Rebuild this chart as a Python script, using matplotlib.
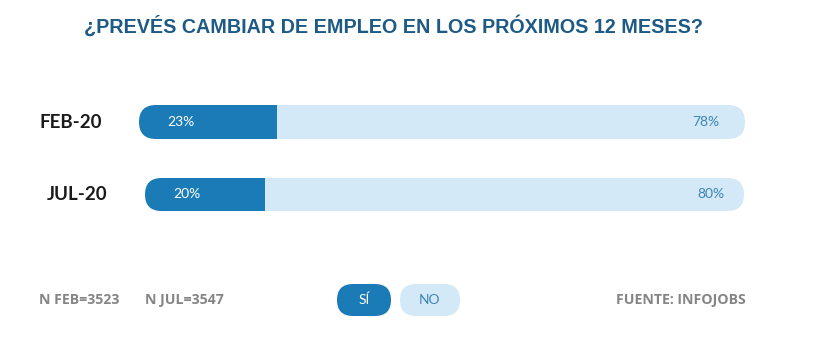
import matplotlib
matplotlib.use("Agg")
import matplotlib.pyplot as plt
from matplotlib.patches import FancyBboxPatch

# data
periods = ["FEB-20", "JUL-20"]
si_pct = [23, 20]
no_pct = [78, 80]
sample_sizes = ["N FEB=3523", "N JUL=3547"]
legend_labels = ["SÍ", "NO"]
title = "¿PREVÉS CAMBIAR DE EMPLEO EN LOS PRÓXIMOS 12 MESES?"
source = "FUENTE: INFOJOBS"

DARK = "#1b7bb6"
LIGHT = "#d3e9f8"
TITLE_C = "#1d5a86"
GREY = "#858585"
NUM_C = "#3d86b3"

W, H = 817, 360
fig = plt.figure(figsize=(W / 100, H / 100), dpi=100)
fig.patch.set_facecolor("white")

# bar rows in pixel boxes: left, right, top, bottom
rows = [(139, 745, 105, 139), (145, 744, 178, 211)]
label_right = [102, 107]


def fx(x):
    return x / W


def fy(y):
    return 1 - y / H


for i, (l, r, t, b) in enumerate(rows):
    ax = fig.add_axes([fx(l), fy(b), (r - l) / W, (b - t) / H])
    total = si_pct[i] + no_pct[i]
    ax.set_xlim(0, total)
    ax.set_ylim(-0.5, 0.5)
    ax.axis("off")
    pw, ph = r - l, b - t
    rad = (ph / 2) * total / pw
    pill = FancyBboxPatch((0, -0.5), total, 1,
                          boxstyle=f"round,pad=0,rounding_size={rad}",
                          mutation_aspect=0.5 / rad,
                          transform=ax.transData, facecolor="none", edgecolor="none")
    ax.add_patch(pill)
    b1 = ax.barh([0], [si_pct[i]], height=1, left=0, color=DARK, linewidth=0)
    b2 = ax.barh([0], [no_pct[i]], height=1, left=si_pct[i], color=LIGHT, linewidth=0)
    for bar in list(b1) + list(b2):
        bar.set_clip_path(pill)
    ax.text(28 * total / pw, 0, f"{si_pct[i]}%", color="white",
            fontsize=10, family="Lato", va="center", ha="left")
    right_pad = [26, 20][i]
    ax.text(total - right_pad * total / pw, 0, f"{no_pct[i]}%", color=NUM_C,
            fontsize=10, family="Lato", va="center", ha="right")
    fig.text(fx(label_right[i]), fy((t + b) / 2), periods[i], ha="right", va="center",
             fontsize=13.5, fontweight="bold", family="Lato", color="#1a1a1a")

fig.text(fx(393), fy(26), title, ha="center", va="center", fontsize=14.2,
         fontweight="bold", family="Liberation Sans", color=TITLE_C)

# footer
foot = dict(va="center", fontsize=10.2, fontweight="bold", family="Open Sans", color=GREY)
fig.text(fx(39), fy(300), sample_sizes[0], ha="left", **foot)
fig.text(fx(145), fy(300), sample_sizes[1], ha="left", **foot)
fig.text(fx(746), fy(300), source, ha="right", **foot)

# legend pills
lax = fig.add_axes([0, 0, 1, 1])
lax.set_xlim(0, W)
lax.set_ylim(H, 0)
lax.axis("off")
for (x0, x1), lab, fc, tc in zip([(337, 391), (400, 460)], legend_labels,
                                 [DARK, LIGHT], ["white", NUM_C]):
    hgt = 32
    lax.add_patch(FancyBboxPatch((x0, 284), x1 - x0, hgt,
                                 boxstyle=f"round,pad=0,rounding_size={hgt / 2}",
                                 facecolor=fc, edgecolor="none"))
    lax.text((x0 + x1) / 2, 300, lab, ha="center", va="center", fontsize=10,
             family="Lato", color=tc)

fig.savefig("out.png", dpi=100, facecolor="white")
